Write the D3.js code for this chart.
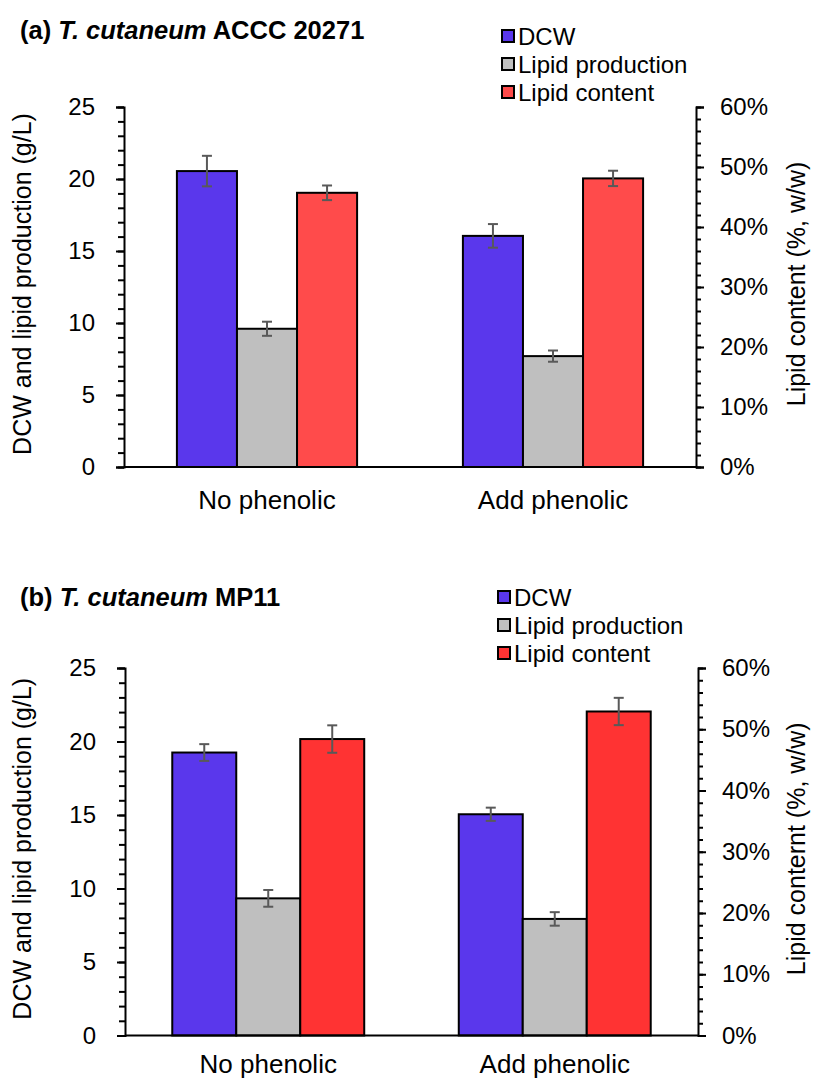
<!DOCTYPE html>
<html>
<head>
<meta charset="utf-8">
<script src="https://cdn.jsdelivr.net/npm/d3@7"></script>
<style>
  body { margin: 0; background: #fff; }
  svg { display: block; font-family: "Liberation Sans", Arial, sans-serif; }
</style>
</head>
<body>
<script>
// categories and series
const categories = ["No phenolic", "Add phenolic"];
const seriesNames = ["DCW", "Lipid production", "Lipid content"];

// (a) T. cutaneum ACCC 20271
const dcwA = [20.55, 16.05];
const dcwErrA = [1.06, 0.82];
const lipidA = [9.6, 7.7];
const lipidErrA = [0.49, 0.39];
const contentA = [45.7, 48.1];      // percent
const contentErrA = [1.22, 1.28];

// (b) T. cutaneum MP11
const dcwB = [19.25, 15.05];
const dcwErrB = [0.57, 0.45];
const lipidB = [9.33, 7.93];
const lipidErrB = [0.57, 0.46];
const contentB = [48.4, 52.9];
const contentErrB = [2.24, 2.23];

const leftTicks = [0, 5, 10, 15, 20, 25];
const rightTicks = [0, 10, 20, 30, 40, 50, 60];

const svgWidth = 833;
const svgHeight = 1079;

const svg = d3.select("body")
  .append("svg")
  .attr("width", svgWidth)
  .attr("height", svgHeight)
  .style("background", "#fff");

const FS = 24;

function drawPanel(p) {
  const g = svg.append("g");

  const yL = d3.scaleLinear().domain([0, 25]).range([p.bottom, p.top]);
  const yR = d3.scaleLinear().domain([0, 60]).range([p.bottom, p.top]);

  const x0 = d3.scaleBand()
    .domain(categories)
    .range([p.left, p.right])
    .paddingInner(p.gap)
    .paddingOuter(p.gap / 2);
  const x1 = d3.scaleBand()
    .domain(seriesNames)
    .range([0, x0.bandwidth()]);

  // rows for bars
  const rows = [];
  categories.forEach(function(c, i) {
    rows.push({cat: c, s: seriesNames[0], v: p.dcw[i], e: p.dcwErr[i], y: yL});
    rows.push({cat: c, s: seriesNames[1], v: p.lipid[i], e: p.lipidErr[i], y: yL});
    rows.push({cat: c, s: seriesNames[2], v: p.content[i], e: p.contentErr[i], y: yR});
  });
  const color = d3.scaleOrdinal().domain(seriesNames).range(p.colors);

  // bars
  g.selectAll("rect.bar")
    .data(rows)
    .enter()
    .append("rect")
    .attr("class", "bar")
    .attr("x", d => x0(d.cat) + x1(d.s))
    .attr("y", d => d.y(d.v))
    .attr("width", x1.bandwidth())
    .attr("height", d => p.bottom - d.y(d.v))
    .attr("fill", d => color(d.s))
    .attr("stroke", "#000")
    .attr("stroke-width", 2);

  // error bars
  const eb = g.selectAll("g.err")
    .data(rows)
    .enter()
    .append("g")
    .attr("class", "err")
    .attr("stroke", "#595959")
    .attr("stroke-width", 2);
  const cx = d => x0(d.cat) + x1(d.s) + x1.bandwidth() / 2;
  eb.append("line")
    .attr("x1", cx).attr("x2", cx)
    .attr("y1", d => d.y(d.v + d.e)).attr("y2", d => d.y(d.v - d.e));
  eb.append("line")
    .attr("x1", d => cx(d) - 5).attr("x2", d => cx(d) + 5)
    .attr("y1", d => d.y(d.v + d.e)).attr("y2", d => d.y(d.v + d.e));
  eb.append("line")
    .attr("x1", d => cx(d) - 5).attr("x2", d => cx(d) + 5)
    .attr("y1", d => d.y(d.v - d.e)).attr("y2", d => d.y(d.v - d.e));

  // left axis (minor + major)
  g.append("g")
    .attr("transform", "translate(" + p.left + ",0)")
    .call(d3.axisLeft(yL).tickValues(d3.range(0, 26, 1)).tickSize(6).tickFormat(""))
    .call(a => a.select(".domain").remove());
  const gl = g.append("g")
    .attr("transform", "translate(" + p.left + ",0)")
    .call(d3.axisLeft(yL).tickValues(leftTicks).tickSize(8).tickPadding(21).tickFormat(d3.format("d")));

  // right axis
  g.append("g")
    .attr("transform", "translate(" + p.right + ",0)")
    .call(d3.axisRight(yR).tickValues(d3.range(0, 61, 2)).tickSize(5).tickFormat(""))
    .call(a => a.select(".domain").remove());
  const gr = g.append("g")
    .attr("transform", "translate(" + p.right + ",0)")
    .call(d3.axisRight(yR).tickValues(rightTicks).tickSize(8).tickPadding(16).tickFormat(d => d + "%"));

  g.selectAll(".tick line").attr("stroke", "#000").attr("stroke-width", 2);
  g.selectAll(".domain").attr("stroke", "#000").attr("stroke-width", 2);
  [gl, gr].forEach(a => a.selectAll("text")
    .attr("font-size", FS)
    .attr("font-family", "Liberation Sans, Arial, sans-serif")
    .attr("fill", "#000"));

  // bottom axis line
  g.append("line")
    .attr("x1", p.left).attr("x2", p.right)
    .attr("y1", p.bottom).attr("y2", p.bottom)
    .attr("stroke", "#000").attr("stroke-width", 2);

  // category labels
  g.selectAll("text.cat")
    .data(categories)
    .enter()
    .append("text")
    .attr("class", "cat")
    .attr("x", d => x0(d) + x0.bandwidth() / 2)
    .attr("y", p.bottom + p.catOff)
    .attr("text-anchor", "middle")
    .attr("font-size", 26)
    .text(d => d);

  // axis titles
  g.append("text")
    .attr("transform", "translate(" + p.leftTitleX + "," + ((p.top + p.bottom) / 2 - 3) + ") rotate(-90)")
    .attr("text-anchor", "middle")
    .attr("dy", "0.35em")
    .attr("font-size", 25)
    .text("DCW and lipid production (g/L)");
  g.append("text")
    .attr("transform", "translate(" + p.rightTitleX + "," + ((p.top + p.bottom) / 2 - 3) + ") rotate(-90)")
    .attr("text-anchor", "middle")
    .attr("dy", "0.35em")
    .attr("font-size", 25)
    .text(p.rightTitle);

  // panel title
  const t = g.append("text")
    .attr("x", 20)
    .attr("y", p.titleY)
    .attr("font-size", 25.5)
    .attr("font-weight", "bold");
  t.append("tspan").text(p.titleParts[0]);
  t.append("tspan").attr("font-style", "italic").text(p.titleParts[1]);
  t.append("tspan").text(p.titleParts[2]);

  // legend
  const lg = g.selectAll("g.leg")
    .data(seriesNames)
    .enter()
    .append("g")
    .attr("class", "leg")
    .attr("transform", (d, i) => "translate(" + p.legX + "," + (p.legY + i * 28) + ")");
  lg.append("rect")
    .attr("x", 0).attr("y", -7)
    .attr("width", 12).attr("height", 12)
    .attr("fill", d => color(d))
    .attr("stroke", "#000")
    .attr("stroke-width", 2);
  lg.append("text")
    .attr("x", 16)
    .attr("dy", "0.35em")
    .attr("font-size", FS)
    .text(d => d);
}

drawPanel({
  left: 124, right: 696, top: 107, bottom: 467, gap: 0.37,
  dcw: dcwA, dcwErr: dcwErrA, lipid: lipidA, lipidErr: lipidErrA,
  content: contentA, contentErr: contentErrA,
  colors: ["#5a37ec", "#bfbfbf", "#ff4b4b"],
  catOff: 42, leftTitleX: 22, rightTitleX: 796,
  rightTitle: "Lipid content (%, w/w)",
  titleY: 39, titleParts: ["(a) ", "T. cutaneum", " ACCC 20271"],
  legX: 502, legY: 37
});

drawPanel({
  left: 125, right: 698, top: 668, bottom: 1035.5, gap: 0.33,
  dcw: dcwB, dcwErr: dcwErrB, lipid: lipidB, lipidErr: lipidErrB,
  content: contentB, contentErr: contentErrB,
  colors: ["#5a37ec", "#bfbfbf", "#ff3333"],
  catOff: 37, leftTitleX: 22, rightTitleX: 796,
  rightTitle: "Lipid conternt (%, w/w)",
  titleY: 606, titleParts: ["(b) ", "T. cutaneum", " MP11"],
  legX: 498, legY: 598
});
</script>
</body>
</html>
